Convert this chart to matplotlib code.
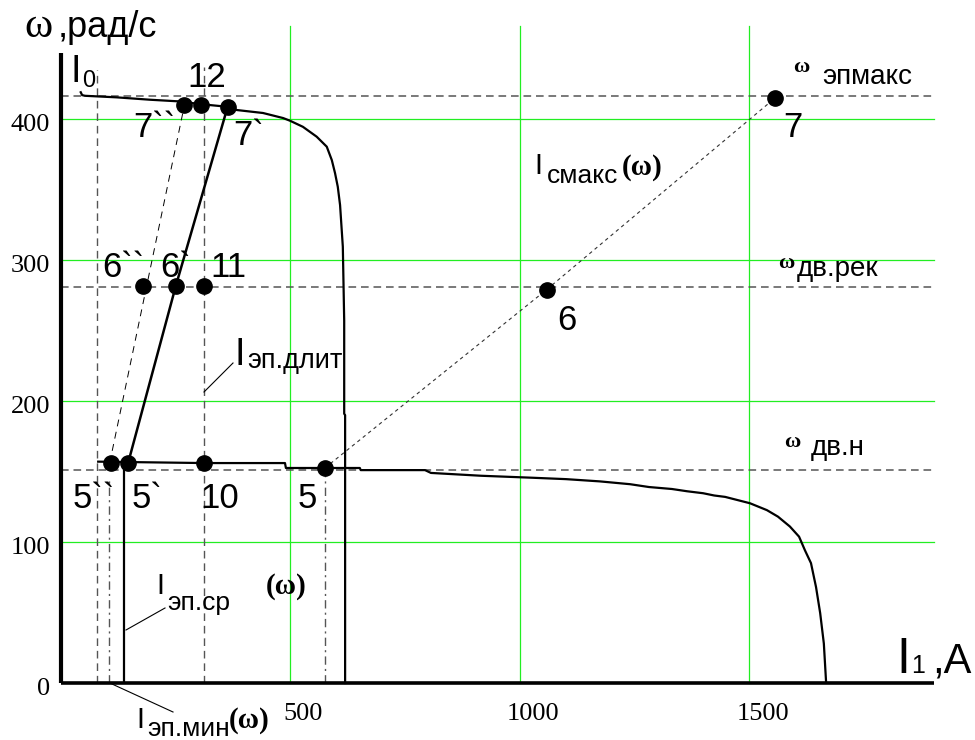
import matplotlib
matplotlib.use('Agg')
import matplotlib.pyplot as plt
import matplotlib.transforms as mtransforms
from matplotlib.lines import Line2D

plt.rcParams['lines.scale_dashes'] = False

# ---------------- data ----------------
x_ticks = [500, 1000, 1500]
y_ticks = [0, 100, 200, 300, 400]
x_max = 1902
y_max = 466
y_axis_top = 447

# upper characteristic (I_0 -> knee -> vertical)
I_top = [43, 46, 52, 121, 194, 259, 306, 363, 383, 440, 484, 499, 527, 557, 579,
         590, 597, 603, 608, 614, 617, 617, 619, 619]
w_top = [419, 417, 416.5, 415.4, 413.7, 412.5, 410.5, 408.7, 406.4, 404.3, 400.7,
         398.8, 394.5, 387.5, 380.4, 370.9, 361.7, 352, 339, 309.5, 257, 191, 190, 0]

# lower characteristic
I_bot = [81, 312, 488, 490, 651, 653, 793, 806, 915, 1026, 1100, 1174, 1240, 1281,
         1331, 1364, 1399, 1423, 1447, 1501, 1538, 1562, 1588, 1608, 1621, 1634,
         1645, 1654, 1662, 1667]
w_bot = [157, 156, 156, 152.5, 152.5, 151, 151, 149, 147, 145.6, 144.6, 143, 141,
         139, 137.6, 136, 134.6, 133, 132, 127.5, 122.6, 118, 111, 103.8, 94, 85,
         68, 49.6, 28, 0]

# I_эп.длит slanted (5` -> 7`)
I_dlit = [147, 250, 366]
w_dlit = [157, 281.5, 412]
# thin dashed (5`` -> 7``)
I_thin = [106, 269]
w_thin = [156, 410]
# I_смакс(ω) (5 -> 6 -> 7)
I_smax = [575, 1058, 1556]
w_smax = [152.5, 279, 415]

# horizontal reference speeds
w_epmax = 416
w_rec = 281
w_nom = 151

# vertical reference currents
I_v_dashed = [78, 312]
I_v_dashed_top = [435, 437]
I_v_dashdot = [104, 575]
I_v_dashdot_top = [146, 152.5]
I_sr = 138
I_sr_top = 156

# marked points
pt_I = [109, 146, 312, 575, 179, 250, 312, 1058, 269, 306, 363, 1556]
pt_w = [156, 156, 156, 152.5, 281.5, 281.5, 281.5, 279, 410, 410, 408.7, 415]

# ---------------- figure ----------------
W, H = 975, 740
fig = plt.figure(figsize=(W / 100, H / 100), dpi=100)
fig.patch.set_facecolor('white')
ax = fig.add_axes([61 / W, 1 - 683 / H, 873 / W, 657 / H])
ax.set_xlim(0, x_max)
ax.set_ylim(0, y_max)
ax.axis('off')

GREEN = '#22ee22'
GRAY = '#555555'

# green grid
for xv in x_ticks:
    ax.plot([xv, xv], [0, y_max], color=GREEN, lw=0.9, zorder=1, clip_on=False)
for yv in y_ticks[1:]:
    ax.plot([0, x_max], [yv, yv], color=GREEN, lw=0.9, zorder=1, clip_on=False)

# horizontal dashed references
for wv in (w_epmax, w_rec, w_nom):
    ax.plot([0, x_max], [wv, wv], color=GRAY, lw=1.1, dashes=(5.5, 3.5), zorder=2)

# vertical dashed references
for iv, top in zip(I_v_dashed, I_v_dashed_top):
    ax.plot([iv, iv], [0, top], color=GRAY, lw=1.0, dashes=(5.5, 3.5), zorder=2, clip_on=False)
for iv, top in zip(I_v_dashdot, I_v_dashdot_top):
    ax.plot([iv, iv], [0, top], color=GRAY, lw=1.0, dashes=(6, 3, 1.5, 3), zorder=2)

# I_эп.ср vertical
ax.plot([I_sr, I_sr], [0, I_sr_top], color='black', lw=1.6, zorder=3)

# curves
ax.plot(I_top, w_top, color='black', lw=1.6, zorder=3, clip_on=False)
ax.plot(I_bot, w_bot, color='black', lw=1.6, zorder=3)
ax.plot(I_dlit, w_dlit, color='black', lw=1.8, zorder=3, clip_on=False)
ax.plot(I_thin, w_thin, color='black', lw=0.7, dashes=(5, 4), zorder=3)
ax.plot(I_smax, w_smax, color='#333333', lw=0.8, dashes=(2.5, 2.5), zorder=3)

# axes lines
ax.plot([0, 0], [0, y_axis_top], color='black', lw=3.0, zorder=4, clip_on=False,
        solid_capstyle='butt')
ax.plot([0, x_max], [0, 0], color='black', lw=2.6, zorder=4, clip_on=False,
        solid_capstyle='butt')

# points
ax.plot(pt_I, pt_w, 'o', ms=11, color='black', zorder=5, clip_on=False)


def off(dx, dy):
    return ax.transData + mtransforms.ScaledTranslation(dx / 100, -dy / 100,
                                                        fig.dpi_scale_trans)


SERIF = 'Liberation Serif'
SANS = 'Liberation Sans'

# tick labels
for xv in x_ticks:
    ax.text(xv, 0, str(xv), transform=off(13, 37), ha='center', va='baseline',
            fontsize=19, family=SERIF, clip_on=False)
for yv in y_ticks:
    ax.text(0, yv, str(yv), transform=off(-11, 12), ha='right', va='baseline',
            fontsize=19, family=SERIF, clip_on=False)


def T(x, y, s, size, family=SANS, weight='normal', ha='left', va='baseline'):
    fig.text(x / W, 1 - y / H, s, fontsize=size, family=family, weight=weight,
             ha=ha, va=va)


# point labels
NUM = 25
T(73, 508, '5``', NUM)
T(132, 508, '5`', NUM)
T(200, 508, '10', NUM)
T(298, 508, '5', NUM)
T(102, 277, '6``', NUM)
T(160, 277, '6`', NUM)
T(210, 277, '11', NUM)
T(557, 330, '6', NUM)
T(133, 137, '7``', NUM)
T(187, 87, '12', NUM)
T(233, 145, '7`', NUM)
T(783, 137, '7', NUM)

# axis titles
T(24, 37, 'ω', 31, family=SERIF)
T(58, 37, ',рад/с', 26)
T(896, 673, 'I', 36)
T(911, 673, '1', 18)
T(932, 673, ',A', 30)

# I_0
T(70, 82, 'I', 27)
T(82, 87, '0', 17)

# speeds
T(793, 72, 'ω', 16, family=SERIF, weight='bold')
T(822, 84, 'эпмакс', 20)
T(778, 268, 'ω', 16, family=SERIF, weight='bold')
T(797, 276, 'дв.рек', 20)
T(784, 447, 'ω', 16, family=SERIF, weight='bold')
T(811, 455, 'дв.н', 20)

# current labels
T(235, 365, 'I', 27)
T(247, 368, 'эп.длит', 19.5)
T(156, 594, 'I', 21)
T(167, 610, 'эп.ср', 19)
T(266, 594, '(ω)', 21, family=SERIF, weight='bold')
T(136, 728, 'I', 21)
T(147, 736, 'эп.мин', 19)
T(229, 728, '(ω)', 21, family=SERIF, weight='bold')
T(534, 174, 'I', 21)
T(547, 183, 'смакс', 19)
T(622, 175, '(ω)', 21, family=SERIF, weight='bold')

# leader lines
for (x0, y0, x1, y1) in [(204, 392, 233, 363), (126, 630, 165, 608), (112, 684, 173, 712)]:
    fig.add_artist(Line2D([x0 / W, x1 / W], [1 - y0 / H, 1 - y1 / H], color='black',
                          lw=0.8, transform=fig.transFigure))

fig.savefig('out.png', dpi=100, facecolor='white')
